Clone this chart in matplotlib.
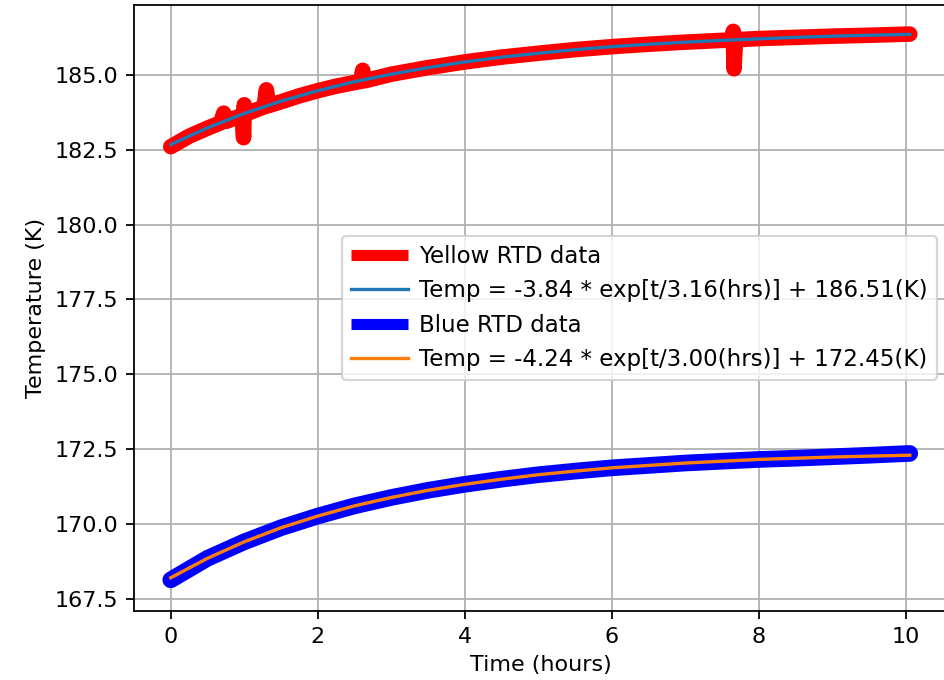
import matplotlib
matplotlib.use("Agg")
import matplotlib.pyplot as plt
from matplotlib.lines import Line2D

# Yellow RTD (red trace), incl. the spikes
yellow_t = [0.0, 0.25, 0.5, 0.68, 0.72, 0.76, 0.97, 0.99, 1.0, 1.01, 1.03,
            1.27, 1.30, 1.33, 1.5, 1.75, 2.0, 2.25, 2.58, 2.61, 2.64, 3.0,
            3.5, 4.0, 4.5, 5.0, 5.5, 6.0, 6.5, 7.0, 7.5, 7.63, 7.65, 7.66,
            7.68, 8.0, 8.5, 9.0, 9.5, 10.05]
yellow_T = [182.60, 182.95, 183.22, 183.40, 183.72, 183.45, 183.65, 182.90, 184.00,
            183.68, 183.70, 183.93, 184.50, 183.97, 184.10, 184.30, 184.47, 184.62,
            184.78, 185.15, 184.80, 185.02, 185.24, 185.43, 185.59, 185.72, 185.84,
            185.94, 186.02, 186.09, 186.15, 186.16, 186.45, 185.20, 186.17, 186.21,
            186.25, 186.29, 186.32, 186.36]

# Blue RTD (blue trace)
blue_t = [0.0, 0.5, 1.0, 1.5, 2.0, 2.5, 3.0, 3.5, 4.0, 4.5, 5.0, 5.5,
          6.0, 6.5, 7.0, 7.5, 8.0, 8.5, 9.0, 9.5, 10.05]
blue_T = [168.14, 168.86, 169.41, 169.88, 170.27, 170.61, 170.89, 171.13,
          171.33, 171.50, 171.65, 171.77, 171.88, 171.96, 172.04, 172.10, 172.16,
          172.20, 172.25, 172.30, 172.36]

# fitted curves as drawn
fit_t = [0.0, 0.5, 1.0, 1.5, 2.0, 2.5, 3.0, 3.5, 4.0, 4.5, 5.0, 5.5, 6.0,
         6.5, 7.0, 7.5, 8.0, 8.5, 9.0, 9.5, 10.05]
yellow_fit = [182.67, 183.23, 183.71, 184.12, 184.47, 184.77, 185.02, 185.24,
              185.43, 185.59, 185.72, 185.84, 185.94, 186.02, 186.09, 186.15,
              186.20, 186.25, 186.29, 186.32, 186.35]
blue_fit = [168.21, 168.86, 169.41, 169.88, 170.27, 170.61, 170.89, 171.13,
            171.33, 171.50, 171.65, 171.77, 171.88, 171.96, 172.04, 172.10,
            172.16, 172.20, 172.24, 172.27, 172.30]

lab_y = 'Yellow RTD data'
lab_yf = 'Temp = -3.84 * exp[t/3.16(hrs)] + 186.51(K)'
lab_b = 'Blue RTD data'
lab_bf = 'Temp = -4.24 * exp[t/3.00(hrs)] + 172.45(K)'

fig = plt.figure(figsize=(5.9, 4.25), dpi=160)
ax = fig.add_axes([134 / 944, 69 / 680, 814 / 944, 606 / 680])

ax.plot(yellow_t, yellow_T, color='r', lw=7, solid_capstyle='round', solid_joinstyle='round')
ax.plot(fit_t, yellow_fit, color='C0', lw=1.5)
ax.plot(blue_t, blue_T, color='b', lw=7.5, solid_capstyle='round', solid_joinstyle='round')
ax.plot(fit_t, blue_fit, color='C1', lw=1.5)

ax.set_xlim(-0.5, 10.57)
ax.set_ylim(167.1, 187.33)
ax.set_xticks([0, 2, 4, 6, 8, 10])
ax.set_yticks([167.5, 170.0, 172.5, 175.0, 177.5, 180.0, 182.5, 185.0])
ax.grid(True)
ax.set_xlabel('Time (hours)')
ax.set_ylabel('Temperature (K)')

handles = [Line2D([], [], color='r', lw=5, solid_capstyle='butt'),
           Line2D([], [], color='C0', lw=1.5),
           Line2D([], [], color='b', lw=5, solid_capstyle='butt'),
           Line2D([], [], color='C1', lw=1.5)]
ax.legend(handles, [lab_y, lab_yf, lab_b, lab_bf], loc='center right',
          fontsize=10.3, handlelength=2.5, handletextpad=0.45, labelspacing=0.5)

fig.savefig('out.png', dpi=160)
